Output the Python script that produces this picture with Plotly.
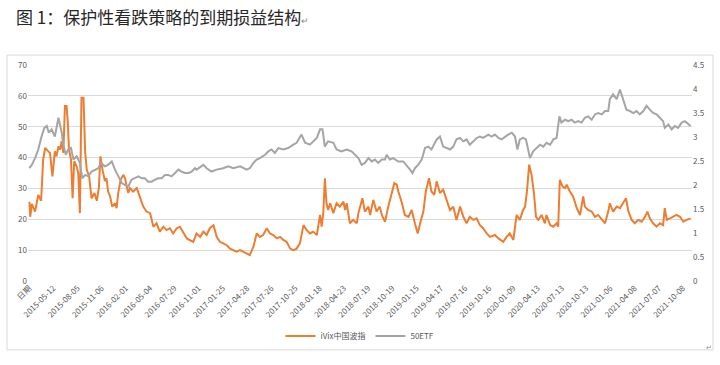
import plotly.graph_objects as go

# trading-day index positions of category tick labels (every 60 trading days)
tick_labels = ["日期", "2015-05-12", "2015-08-05", "2015-11-06", "2016-02-01", "2016-05-04",
               "2016-07-29", "2016-11-01", "2017-01-25", "2017-04-28", "2017-07-26", "2017-10-25",
               "2018-01-18", "2018-04-23", "2018-07-19", "2018-10-19", "2019-01-15", "2019-04-17",
               "2019-07-16", "2019-10-16", "2020-01-09", "2020-04-13", "2020-07-13", "2020-10-13",
               "2021-01-06", "2021-04-08", "2021-07-07", "2021-10-08"]
tick_index = [i * 60 for i in range(len(tick_labels))]

# iVix China volatility index (left axis)
ivix_day = [1, 3, 7, 15, 23, 30, 35, 40, 48, 52, 58, 64, 68, 73, 77, 81, 85, 89, 93, 96, 99, 104, 108,
            112, 118, 122, 126, 130, 135, 139, 143, 149, 153, 155, 162, 168, 173, 177, 182, 188, 192,
            196, 201, 206, 213, 217, 221, 227, 234, 238, 242, 246, 250, 258, 267, 275, 283, 291, 300,
            308, 316, 324, 333, 341, 349, 357, 366, 374, 382, 391, 399, 407, 415, 424, 432, 440, 448,
            457, 465, 473, 481, 490, 498, 506, 514, 523, 531, 539, 547, 556, 564, 572, 580, 589, 597,
            605, 614, 622, 630, 638, 647, 655, 663, 671, 680, 688, 696, 704, 713, 721, 725, 729, 733,
            737, 741, 746, 754, 762, 770, 779, 783, 787, 795, 803, 812, 816, 820, 826, 832, 841, 845,
            853, 861, 869, 874, 882, 890, 897, 905, 911, 915, 923, 931, 940, 948, 956, 963, 969, 977,
            983, 991, 997, 1004, 1010, 1018, 1026, 1035, 1043, 1051, 1059, 1068, 1076, 1084, 1092,
            1101, 1109, 1117, 1125, 1134, 1142, 1154, 1163, 1175, 1183, 1191, 1200, 1208, 1216, 1224,
            1229, 1234, 1239, 1245, 1251, 1256, 1262, 1270, 1278, 1282, 1291, 1299, 1307, 1311, 1315,
            1322, 1328, 1332, 1340, 1348, 1357, 1365, 1373, 1377, 1385, 1394, 1402, 1410, 1419, 1427,
            1435, 1439, 1447, 1456, 1464, 1472, 1479, 1485, 1493, 1501, 1509, 1518, 1526, 1532, 1538,
            1546, 1555, 1563, 1571, 1575, 1580, 1588, 1596, 1604, 1613, 1621, 1629, 1639]
ivix_val = [25.7, 20.8, 25.0, 22.5, 27.9, 26.0, 39.3, 43.1, 42.0, 41.5, 33.9, 42.0, 40.4, 43.6, 42.6,
            45.3, 41.5, 56.7, 56.7, 51.7, 42.6, 39.3, 26.8, 38.8, 37.1, 35.0, 22.0, 59.4, 59.4, 42.0,
            36.1, 33.9, 29.0, 26.8, 28.5, 26.0, 30.1, 40.4, 36.1, 32.4, 33.3, 29.0, 27.4, 24.1, 25.2,
            23.6, 28.5, 32.8, 34.4, 33.3, 30.6, 28.5, 30.1, 29.0, 30.1, 27.4, 24.1, 22.5, 22.0, 17.6,
            18.7, 16.0, 17.6, 16.5, 17.1, 15.4, 17.1, 17.6, 16.0, 13.8, 13.2, 12.7, 15.4, 14.3, 16.0,
            14.9, 17.1, 18.1, 14.3, 12.7, 12.2, 11.6, 10.5, 10.0, 9.5, 10.0, 9.5, 8.9, 8.4, 11.1, 15.4,
            14.3, 14.9, 17.1, 15.4, 14.9, 13.8, 14.3, 13.3, 12.7, 10.5, 10.0, 10.5, 12.2, 18.1, 16.5,
            15.4, 16.0, 14.9, 21.4, 17.6, 22.0, 33.3, 25.2, 23.0, 25.2, 22.0, 25.2, 24.1, 25.7, 23.0,
            25.2, 18.7, 19.8, 18.7, 22.0, 24.1, 26.8, 22.5, 24.1, 21.4, 26.3, 22.5, 24.1, 21.4, 19.2,
            24.1, 27.4, 31.7, 31.2, 29.0, 25.7, 21.4, 20.8, 23.0, 18.7, 15.4, 18.7, 22.5, 29.0, 33.3,
            29.0, 27.9, 32.3, 28.5, 29.6, 25.7, 23.0, 24.1, 19.8, 24.1, 20.8, 18.7, 20.8, 19.8, 20.3,
            18.1, 17.1, 15.4, 14.3, 14.9, 13.8, 12.7, 14.3, 15.4, 13.3, 21.4, 19.8, 23.0, 24.1, 29.5,
            37.7, 34.4, 28.5, 20.8, 19.8, 21.4, 18.7, 21.4, 18.1, 17.6, 18.7, 17.6, 32.8, 30.6, 30.1,
            31.2, 29.0, 27.4, 23.6, 21.4, 27.4, 24.1, 23.0, 22.5, 20.8, 21.4, 19.8, 18.7, 22.5, 25.2,
            22.5, 24.1, 23.6, 25.2, 26.8, 22.5, 19.8, 18.7, 19.8, 19.2, 20.8, 22.5, 20.3, 18.7, 17.6,
            18.7, 18.1, 23.6, 19.8, 20.3, 20.8, 21.4, 20.8, 19.2, 19.8, 20.3]

# 50ETF price (right axis)
etf_day = [1, 7, 15, 23, 31, 38, 44, 49, 56, 64, 73, 77, 81, 85, 91, 97, 104, 110, 118, 126, 132, 139,
           147, 155, 163, 172, 178, 188, 196, 205, 213, 221, 230, 238, 246, 254, 262, 271, 279, 287,
           295, 304, 312, 320, 329, 337, 345, 353, 362, 370, 378, 386, 395, 403, 411, 415, 432, 440,
           452, 465, 481, 494, 506, 523, 539, 547, 556, 564, 572, 585, 593, 601, 609, 618, 630, 642,
           655, 663, 675, 684, 696, 704, 713, 721, 727, 733, 741, 754, 762, 774, 787, 799, 808, 816,
           824, 832, 841, 849, 857, 865, 874, 882, 886, 894, 902, 915, 927, 935, 944, 950, 956, 964,
           973, 981, 989, 997, 1010, 1018, 1026, 1035, 1043, 1051, 1059, 1068, 1076, 1084, 1092, 1101,
           1109, 1117, 1125, 1138, 1146, 1154, 1163, 1171, 1179, 1187, 1196, 1204, 1210, 1216, 1224,
           1231, 1234, 1241, 1249, 1258, 1266, 1274, 1282, 1291, 1299, 1307, 1314, 1319, 1328, 1336,
           1344, 1352, 1361, 1369, 1377, 1385, 1394, 1402, 1410, 1419, 1427, 1435, 1439, 1447, 1456,
           1464, 1472, 1480, 1489, 1497, 1505, 1513, 1522, 1530, 1538, 1546, 1555, 1563, 1571, 1575,
           1584, 1592, 1600, 1608, 1617, 1625, 1633, 1639]
etf_val = [2.35, 2.42, 2.56, 2.74, 3.01, 3.19, 3.23, 3.09, 3.16, 3.01, 3.40, 3.26, 3.09, 2.84, 2.63,
           2.74, 2.77, 2.53, 2.60, 2.46, 2.14, 2.21, 2.18, 2.28, 2.32, 2.35, 2.46, 2.39, 2.42, 2.49,
           2.32, 2.18, 2.04, 2.00, 1.97, 2.11, 2.14, 2.18, 2.14, 2.14, 2.07, 2.07, 2.11, 2.14, 2.14,
           2.21, 2.21, 2.18, 2.25, 2.32, 2.28, 2.25, 2.25, 2.28, 2.35, 2.32, 2.42, 2.35, 2.28, 2.32,
           2.35, 2.39, 2.35, 2.39, 2.32, 2.35, 2.46, 2.53, 2.56, 2.63, 2.70, 2.74, 2.67, 2.77, 2.74,
           2.77, 2.84, 2.88, 3.05, 2.88, 2.84, 2.91, 2.98, 3.16, 3.16, 2.80, 2.91, 2.88, 2.74, 2.70,
           2.74, 2.70, 2.63, 2.56, 2.42, 2.46, 2.56, 2.49, 2.53, 2.46, 2.53, 2.53, 2.63, 2.53, 2.56,
           2.49, 2.49, 2.42, 2.32, 2.25, 2.35, 2.42, 2.53, 2.77, 2.80, 2.74, 2.95, 3.01, 2.80, 2.77,
           2.74, 2.80, 2.95, 2.98, 2.91, 2.95, 2.84, 2.91, 2.98, 3.01, 2.98, 3.05, 3.01, 3.05, 2.98,
           2.95, 3.01, 3.05, 3.09, 3.01, 2.74, 2.95, 2.98, 2.95, 2.84, 2.56, 2.70, 2.77, 2.84, 2.80,
           2.88, 2.84, 2.95, 2.98, 3.43, 3.30, 3.36, 3.33, 3.36, 3.30, 3.33, 3.30, 3.40, 3.43, 3.36,
           3.47, 3.50, 3.47, 3.54, 3.54, 3.79, 3.89, 3.79, 3.99, 3.79, 3.57, 3.54, 3.50, 3.54, 3.47,
           3.54, 3.65, 3.57, 3.50, 3.47, 3.40, 3.33, 3.19, 3.26, 3.16, 3.23, 3.19, 3.30, 3.33, 3.26,
           3.23]

series_names = ["iVix中国波指", "50ETF"]
left_ticks = [0, 10, 20, 30, 40, 50, 60, 70]
right_ticks = [0, 0.5, 1, 1.5, 2, 2.5, 3, 3.5, 4, 4.5]
right_ticktext = ["0", "0.5", "1", "1.5", "2", "2.5", "3", "3.5", "4", "4.5"]

ORANGE = "#ED7D31"
GRAY = "#A5A5A5"
TXT = "#595959"

fig = go.Figure()
fig.add_trace(go.Scatter(x=ivix_day, y=ivix_val, mode="lines", name=series_names[0],
                         line=dict(color=ORANGE, width=2)))
fig.add_trace(go.Scatter(x=etf_day, y=etf_val, mode="lines", name=series_names[1],
                         line=dict(color=GRAY, width=2), yaxis="y2"))

fig.update_layout(
    width=720, height=365,
    margin=dict(l=28, r=28, t=65, b=84),
    paper_bgcolor="white", plot_bgcolor="white",
    font=dict(family="Noto Sans CJK SC, Liberation Sans, sans-serif", size=8, color=TXT),
    showlegend=True,
    legend=dict(orientation="h", x=0.5, xanchor="center", y=-0.255, yanchor="middle",
                font=dict(size=8, color=TXT), itemwidth=30, bgcolor="rgba(0,0,0,0)"),
    xaxis=dict(range=[-2.5, 1642.5], tickmode="array", tickvals=tick_index, ticktext=tick_labels,
               tickangle=-45, showgrid=False, zeroline=False, showline=False, ticks="",
               tickfont=dict(size=8, color=TXT)),
    yaxis=dict(range=[0, 70], tickmode="array", tickvals=left_ticks, showgrid=True,
               gridcolor="#D9D9D9", gridwidth=1, zeroline=False, showline=False, ticks="",
               tickfont=dict(size=8, color=TXT)),
    yaxis2=dict(range=[0, 4.5], overlaying="y", side="right", tickmode="array",
                tickvals=right_ticks, ticktext=right_ticktext, showgrid=False, zeroline=False,
                showline=False, ticks="", tickfont=dict(size=8, color=TXT)),
)

# chart frame
fig.add_shape(type="rect", xref="paper", yref="paper", x0=-0.0316, x1=1.0316, y0=-0.319, y1=1.046,
              line=dict(color="#D9D9D9", width=1), fillcolor="rgba(0,0,0,0)", layer="below")

# title
fig.add_annotation(xref="paper", yref="paper", x=-0.021, y=1.225, xanchor="left", yanchor="middle",
                   showarrow=False,
                   text="图 1：保护性看跌策略的到期损益结构<span style='font-size:9px;color:#888888'>↵</span>",
                   font=dict(family="Noto Sans CJK SC", size=17, color="#262626"))
fig.add_annotation(xref="paper", yref="paper", x=1.018, y=-0.305, xanchor="left", yanchor="middle",
                   showarrow=False, text="↵", font=dict(size=7, color="#888888"))

fig.write_html("out.html")
